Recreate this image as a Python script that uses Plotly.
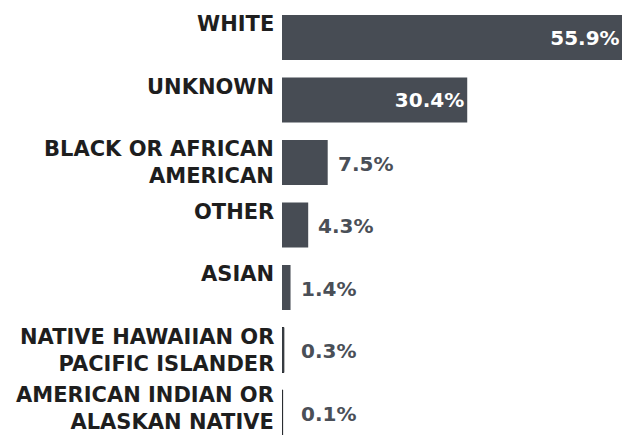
import plotly.graph_objects as go

# Race / ethnicity breakdown, in percent
categories = [
    "WHITE",
    "UNKNOWN",
    "BLACK OR AFRICAN<br>AMERICAN",
    "OTHER",
    "ASIAN",
    "NATIVE HAWAIIAN OR<br>PACIFIC ISLANDER",
    "AMERICAN INDIAN OR<br>ALASKAN NATIVE",
]
values = [55.9, 30.4, 7.5, 4.3, 1.4, 0.3, 0.1]
value_labels = [f"{v:.1f}%" for v in values]

BAR_COLOR = "#474c54"
HAIRLINE_COLOR = "#25282c"
LABEL_COLOR = "#1e1e1e"
VALUE_COLOR = "#4a4f57"
FONT = "DejaVu Sans"
BAR_WIDTH = 0.72
INSIDE_MIN = 20  # values at or above this get their label inside the bar
THIN_MAX = 1     # bars this short get a hairline so they stay visible

positions = list(range(len(categories)))

fig = go.Figure()
fig.add_trace(go.Bar(
    x=values,
    y=positions,
    orientation="h",
    width=BAR_WIDTH,
    marker=dict(
        color=BAR_COLOR,
        line=dict(
            width=[1 if v < THIN_MAX else 0 for v in values],
            color=HAIRLINE_COLOR,
        ),
    ),
    text=[lbl if v >= INSIDE_MIN else "" for v, lbl in zip(values, value_labels)],
    textposition="inside",
    insidetextanchor="end",
    textfont=dict(family=FONT, size=20, color="white", weight="bold"),
    hoverinfo="skip",
))

annotations = []
last = len(categories) - 1
for i, (cat, v, lbl) in enumerate(zip(categories, values, value_labels)):
    # category label, right-aligned and top-aligned with its bar
    # (the bottom one is nudged up so it stays inside the figure)
    annotations.append(dict(
        x=0, y=i - BAR_WIDTH / 2, xref="x", yref="y",
        text=cat, showarrow=False,
        xanchor="right", yanchor="top", align="right",
        xshift=-6, yshift=9 if i == last else 5,
        font=dict(family=FONT, size=21, color=LABEL_COLOR, weight="bold"),
    ))
    # value label to the right of short bars
    if v < INSIDE_MIN:
        annotations.append(dict(
            x=max(v, 1.5), y=i, xref="x", yref="y",
            text=lbl, showarrow=False,
            xanchor="left", yanchor="middle",
            xshift=8, yshift=-1,
            font=dict(family=FONT, size=20, color=VALUE_COLOR, weight="bold"),
        ))

fig.update_layout(
    width=623, height=435,
    margin=dict(l=282, r=1, t=0, b=0),
    paper_bgcolor="white", plot_bgcolor="white",
    showlegend=False,
    xaxis=dict(range=[0, 55.8], visible=False, fixedrange=True),
    yaxis=dict(range=[6.36, -0.6], visible=False, fixedrange=True),
    annotations=annotations,
    uniformtext=dict(minsize=8),
)

fig.write_html("out.html")
